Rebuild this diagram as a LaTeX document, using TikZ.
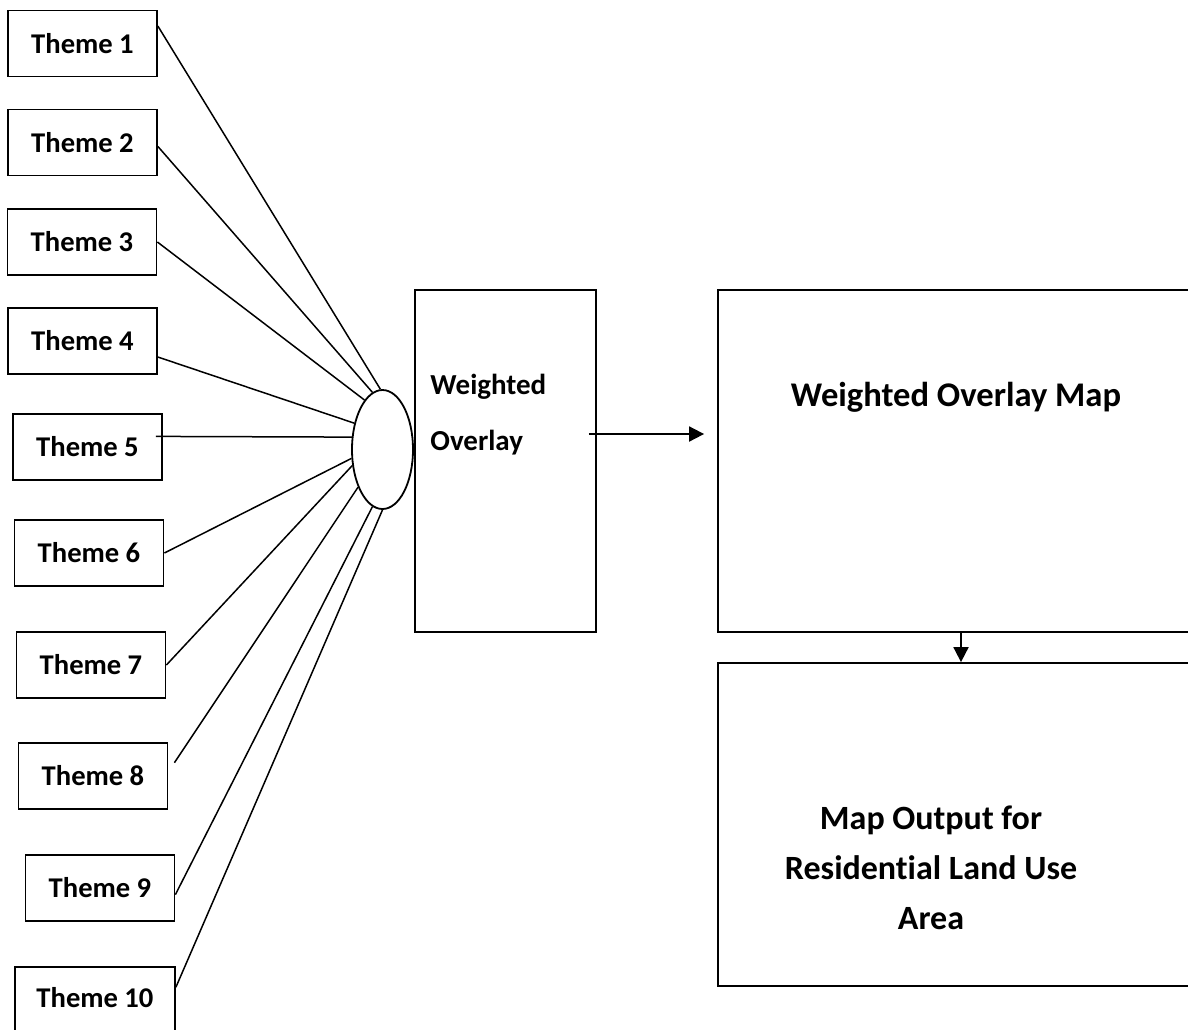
\documentclass[tikz,border=0pt]{standalone}
\usepackage{fontspec}
\setmainfont{Carlito}[Ligatures=NoCommon]
\usetikzlibrary{shapes.geometric}
\usetikzlibrary{arrows.meta}

\begin{document}
\begin{tikzpicture}[x=0.5pt,y=-0.5pt]
	 \tikzstyle{theme}=[draw,line width=0.9pt,rectangle,minimum width=74.5pt,minimum height=33pt,inner sep=0pt,font=\fontsize{14.3}{17}\selectfont\bfseries]
	 \tikzstyle{bigbox}=[draw,line width=0.9pt,rectangle,inner sep=0pt]
	 \tikzstyle{label}=[inner sep=0pt,font=\bfseries]
	 \tikzstyle{edge} = [draw,line width=0.75pt,-,black]
	 \tikzstyle{arrow} = [draw,line width=0.9pt,-{Triangle[length=7.5pt,width=7.5pt]},black]
	 \useasboundingbox (0,0) rectangle (1188,1029);
	 \node[theme] (t1) at (82.5,43.5) {Theme 1};
	 \node[theme] (t2) at (82.5,142.5) {Theme 2};
	 \node[theme] (t3) at (82,242) {Theme 3};
	 \node[theme] (t4) at (82.5,341) {Theme 4};
	 \node[theme] (t5) at (87.5,447) {Theme 5};
	 \node[theme] (t6) at (89,553) {Theme 6};
	 \node[theme] (t7) at (91,665) {Theme 7};
	 \node[theme] (t8) at (93,776) {Theme 8};
	 \node[theme] (t9) at (100,888) {Theme 9};
	 \node[theme,minimum width=80pt,text depth=3pt] (t10) at (95,1000) {Theme 10};
	 \node[draw,line width=0.9pt,ellipse,minimum width=30.5pt,minimum height=59.5pt,inner sep=0pt] (hub) at (382.5,449.5) {};
	 \node[bigbox,minimum width=90.5pt,minimum height=171pt] (ovbox) at (505.5,461) {};
	 \node[label,anchor=west,font=\fontsize{14.5}{17}\selectfont\bfseries] (ovtop) at (430,387) {Weighted};
	 \node[label,anchor=west,font=\fontsize{14.5}{17}\selectfont\bfseries] (ovbot) at (430,443) {Overlay};
	 \node[bigbox,minimum width=238pt,minimum height=171pt] (mapbox) at (956,461) {};
	 \node[label,font=\fontsize{17.3}{20}\selectfont\bfseries] (maptext) at (956,397) {Weighted Overlay Map};
	 \node[bigbox,minimum width=238pt,minimum height=161.5pt] (outbox) at (956,824.5) {};
	 \node[label,align=center,font=\fontsize{17}{25}\selectfont\bfseries] (outtext) at (931,868) {Map Output for\\Residential Land Use\\Area};
	 \draw[edge] (t1.13) -- (hub.92);
	 \draw[edge] (t2.-3) -- (hub.100);
	 \draw[edge] (t3.east) -- (hub.110);
	 \draw[edge] (t4.-12) -- (hub.137);
	 \draw[edge] ([xshift=-3.5pt]t5.8) -- (hub.158);
	 \draw[edge] (t6.east) -- (hub.196);
	 \draw[edge] (t7.east) -- (hub.208);
	 \draw[edge] ([xshift=3pt]t8.10) -- (hub.237);
	 \draw[edge] (t9.-5.5) -- (hub.260);
	 \draw[edge] (t10.9) -- (hub.270);
	 \draw[arrow] ([xshift=-4pt,yshift=13.5pt]ovbox.east) -- ([xshift=-6.5pt,yshift=13.5pt]mapbox.west);
	 \draw[arrow] ([xshift=2.5pt]mapbox.south) -- ([xshift=2.5pt]outbox.north);
 \end{tikzpicture}
\end{document}
